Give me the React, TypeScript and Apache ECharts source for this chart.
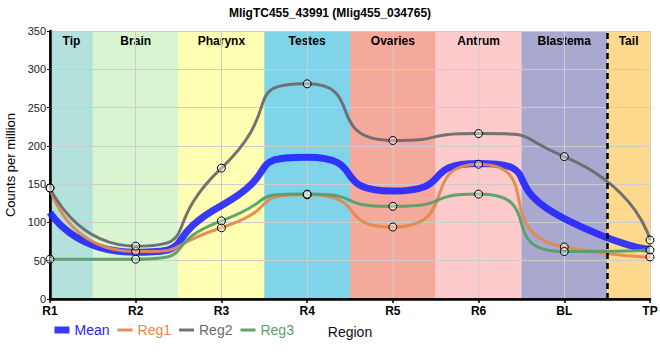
import React, { useEffect, useRef } from "react";
import * as echarts from "echarts";

const categories = ["R1", "R2", "R3", "R4", "R5", "R6", "BL", "TP"];
const meanValues = [113, 61, 122, 185, 141, 177, 105, 65];
const reg1Values = [145, 62, 93, 136, 94, 176, 68, 55];
const reg2Values = [145, 69, 171, 281, 207, 216, 186, 77];
const reg3Values = [52, 52, 102, 137, 121, 137, 62, 64];
const regionNames = ["Tip", "Brain", "Pharynx", "Testes", "Ovaries", "Antrum", "Blastema", "Tail"];
const regionStarts = [0, 0.5, 1.5, 2.5, 3.5, 4.5, 5.5, 6.5];
const regionEnds = [0.5, 1.5, 2.5, 3.5, 4.5, 5.5, 6.5, 7];
const regionColors = ["#b3e2dd", "#d8f5cf", "#ffffb4", "#7fd4ea", "#f4a99b", "#fdcbcb", "#a9a8cf", "#fdda8d"];
const tailBoundary = 6.5;
const yTicks = { min: 0, max: 350, interval: 50 };

const FONT = "'Liberation Sans', Arial, sans-serif";
const colors = { Mean: "#2424ff", Reg1: "#e3894c", Reg2: "#6b6b6b", Reg3: "#5a9e6a" };

const toPairs = (vals: number[]) => vals.map((v, i) => [i, v]);

export default function App() {
  const ref = useRef<HTMLDivElement>(null);
  useEffect(() => {
    if (!ref.current) return;
    const chart = echarts.init(ref.current, undefined, { renderer: "svg" });
    const markerStyle = {
      color: "rgba(255,255,255,0.4)",
      borderColor: "#000",
      borderWidth: 1,
    };
    const regSeries = (name: string, vals: number[]) => ({
      name,
      type: "line",
      data: toPairs(vals),
      smooth: 0.75,
      symbol: "circle",
      symbolSize: 8,
      showSymbol: true,
      lineStyle: { color: (colors as any)[name], width: 3, opacity: 0.95 },
      itemStyle: markerStyle,
      z: 3,
    });
    chart.setOption({
      animation: false,
      title: {
        text: "MligTC455_43991 (Mlig455_034765)",
        left: "center",
        top: 2,
        textStyle: { fontFamily: FONT, fontSize: 12, fontWeight: "bold", color: "#000" },
      },
      grid: { left: 50, right: 10, top: 31, bottom: 61, outerBoundsMode: "none", containLabel: false },
      legend: {
        left: 51,
        top: 323,
        padding: 0,
        itemWidth: 15,
        itemHeight: 8,
        itemGap: 6.5,
        itemStyle: { opacity: 0 },
        textStyle: { fontFamily: FONT, fontSize: 14 },
        data: [
          { name: "Mean", textStyle: { color: colors.Mean }, lineStyle: { width: 7, color: colors.Mean } },
          { name: "Reg1", textStyle: { color: colors.Reg1 }, lineStyle: { width: 3, color: colors.Reg1 } },
          { name: "Reg2", textStyle: { color: colors.Reg2 }, lineStyle: { width: 3, color: colors.Reg2 } },
          { name: "Reg3", textStyle: { color: colors.Reg3 }, lineStyle: { width: 3, color: colors.Reg3 } },
        ],
      },
      xAxis: [
        {
          type: "value",
          min: 0,
          max: categories.length - 1,
          interval: 1,
          z: 1.5,
          name: "Region",
          nameLocation: "middle",
          nameGap: 26,
          nameTextStyle: { fontFamily: FONT, fontSize: 14, color: "#111" },
          axisLine: { lineStyle: { color: "#000", width: 2.5 } },
          axisTick: { show: true, length: 4, lineStyle: { color: "#000", width: 1.5 } },
          axisLabel: {
            formatter: (v: number) => categories[v] ?? "",
            fontFamily: FONT,
            fontSize: 12,
            fontWeight: "bold",
            color: "#000",
            margin: 6,
          },
          splitLine: { show: true, lineStyle: { color: "#cccccc", width: 1 } },
        },
        {
          type: "value",
          position: "top",
          min: 0,
          max: categories.length - 1,
          z: 1.5,
          axisLine: { lineStyle: { color: "#000", width: 1.5 } },
          axisTick: { show: false },
          axisLabel: { show: false },
          splitLine: { show: false },
        },
      ],
      yAxis: [
        {
          type: "value",
          min: yTicks.min,
          max: yTicks.max,
          interval: yTicks.interval,
          z: 1.5,
          name: "Counts per million",
          nameLocation: "middle",
          nameGap: 31,
          nameTextStyle: { fontFamily: FONT, fontSize: 13, color: "#000" },
          axisLine: { show: true, lineStyle: { color: "#000", width: 2.5 } },
          axisTick: { show: true, length: 3, lineStyle: { color: "#000" } },
          axisLabel: { fontFamily: FONT, fontSize: 11, color: "#222", margin: 4 },
          splitLine: { show: true, lineStyle: { color: "#cccccc", width: 1 } },
        },
        {
          type: "value",
          position: "right",
          min: yTicks.min,
          max: yTicks.max,
          z: 1.5,
          axisLine: { show: true, lineStyle: { color: "#000", width: 1.5 } },
          axisTick: { show: false },
          axisLabel: { show: false },
          splitLine: { show: false },
        },
      ],
      series: [
        {
          name: "Mean",
          type: "line",
          data: toPairs(meanValues),
          smooth: 0.75,
          showSymbol: false,
          symbol: "none",
          lineStyle: { color: colors.Mean, width: 7, opacity: 0.9 },
          itemStyle: { color: colors.Mean },
          z: 2,
          markArea: {
            silent: true,
            z: 0,
            itemStyle: { opacity: 1 },
            label: {
              position: "insideTop",
              distance: 4,
              fontFamily: FONT,
              fontSize: 12,
              fontWeight: "bold",
              color: "#000",
            },
            data: regionNames.map((n, i) => [
              { name: n, xAxis: regionStarts[i], itemStyle: { color: regionColors[i] } },
              { xAxis: regionEnds[i] },
            ]),
          },
          markLine: {
            silent: true,
            symbol: "none",
            z: 4,
            label: { show: false },
            lineStyle: { color: "#000", width: 2.5, type: [6, 4] },
            data: [{ xAxis: tailBoundary }],
          },
        },
        regSeries("Reg1", reg1Values),
        regSeries("Reg2", reg2Values),
        regSeries("Reg3", reg3Values),
      ],
    });
    return () => chart.dispose();
  }, []);
  return <div ref={ref} style={{ width: 660, height: 360, position: "absolute", left: 0, top: 0 }} />;
}
